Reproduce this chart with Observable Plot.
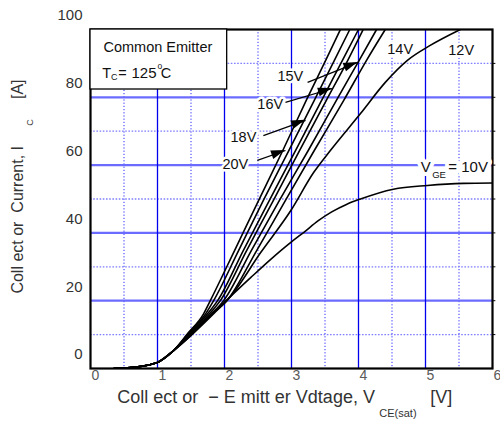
<!DOCTYPE html>
<html><head><meta charset="utf-8">
<script src="https://cdn.jsdelivr.net/npm/d3@7"></script>
<script src="https://cdn.jsdelivr.net/npm/@observablehq/plot@0.6"></script>
<style>html,body{margin:0;padding:0;background:#fff}svg{display:block}</style>
</head><body><div id="chart"></div>
<script>
const FONT = "'Liberation Sans', Arial, Helvetica, sans-serif";

// axis ticks & grid
const xTicks = [0, 1, 2, 3, 4, 5, 6];
const yTicks = [0, 20, 40, 60, 80, 100];
const xMajorGrid = [1, 2, 3, 4, 5];
const yMajorGrid = [20, 40, 60, 80];
const xMinorGrid = [0.5, 1.5, 2.5, 3.5, 4.5, 5.5];
const yMinorGrid = [10, 30, 50, 70, 90];

// common low-current part of all curves [V, A]
const commonStart = [[0.35, 0], [0.6, 0.3], [0.9, 1.2], [1.0, 1.8], [1.24, 5.3]];
// series values [V_CE, I_C]
const v20 = [[1.45, 10.3], [1.69, 16.2], [1.79, 20.1], [2.15, 34.8], [2.51, 49.6], [2.87, 64.3], [3.22, 79.1], [3.51, 90.9], [3.73, 100]];
const v18 = [[1.46, 10.3], [1.72, 16.2], [1.84, 20.1], [2.21, 34.8], [2.58, 49.6], [2.96, 64.3], [3.34, 79.1], [3.64, 90.9], [3.87, 100]];
const v17 = [[1.48, 10.3], [1.75, 16.2], [1.90, 20.1], [2.28, 34.8], [2.67, 49.6], [3.06, 64.3], [3.45, 79.1], [3.76, 90.9], [4.00, 100]];
const v16 = [[1.49, 10.3], [1.78, 16.2], [1.94, 20.1], [2.33, 34.8], [2.73, 49.6], [3.12, 64.3], [3.52, 79.1], [3.84, 90.9], [4.07, 100]];
const v15 = [[1.50, 10.3], [1.81, 16.2], [1.99, 20.1], [2.40, 34.8], [2.82, 49.6], [3.25, 64.3], [3.67, 79.1], [4.01, 90.9], [4.27, 100]];
const v14 = [[1.51, 10.3], [1.82, 16.2], [2.04, 20.1], [2.48, 34.8], [2.91, 49.6], [3.34, 64.3], [3.78, 79.1], [4.12, 90.9], [4.40, 100]];
const v12 = [[1.53, 10.3], [1.85, 16.4], [2.08, 21.0], [2.54, 34.2], [2.99, 46.6], [3.33, 57.8], [3.58, 64.3], [4.03, 75.2], [4.40, 84.4], [4.73, 90.9], [5.07, 95.3], [5.52, 100]];
const v10 = [[1.52, 10.2], [1.68, 13.6], [1.90, 17.7], [2.39, 26.8], [2.69, 32.2], [2.99, 37.2], [3.18, 40.1], [3.40, 43.6], [3.60, 46.2], [3.82, 48.4], [4.03, 50.0], [4.52, 52.9], [5.03, 54.0], [5.57, 54.6], [6.0, 54.7]];

const seriesNames = ["20V", "18V", "17V", "16V", "15V", "14V", "12V", "10V"];
const seriesPoints = [v20, v18, v17, v16, v15, v14, v12, v10];

const rows = seriesNames.flatMap((name, i) =>
  [...commonStart, ...seriesPoints[i]].map(([x, y]) => ({series: name, x, y})));

// curve labels and arrows (data units)
const curveLabels = [
  {text: "14V", x: 4.43, y: 94.1},
  {text: "12V", x: 5.34, y: 93.8},
  {text: "15V", x: 2.79, y: 86.1},
  {text: "16V", x: 2.49, y: 77.9},
  {text: "18V", x: 2.09, y: 68.1},
  {text: "20V", x: 1.97, y: 60.2}
];
const arrows = [
  {x1: 3.24, y1: 84.4, x2: 3.99, y2: 90.3},
  {x1: 2.91, y1: 78.5, x2: 3.61, y2: 82.6},
  {x1: 2.58, y1: 68.7, x2: 3.21, y2: 73.2},
  {x1: 2.49, y1: 61.4, x2: 2.91, y2: 64.3}
];
const legendBox = [{x1: 0, x2: 2.04, y1: 82.3, y2: 100}];

const t = (s) => [s];
const chart = Plot.plot({
  width: 500,
  height: 423,
  marginLeft: 90,
  marginRight: 8,
  marginTop: 29,
  marginBottom: 55,
  style: {fontFamily: FONT, fontSize: "14px", background: "white", overflow: "visible"},
  x: {domain: [0, 6]},
  y: {domain: [0, 100]},
  marks: [
    Plot.ruleX(xMinorGrid, {stroke: "#2a2aff", strokeWidth: 1, strokeDasharray: "1.2,2"}),
    Plot.ruleY(yMinorGrid, {stroke: "#7f7fff", strokeWidth: 1.3, strokeDasharray: "1.6,1.6"}),
    Plot.ruleY(yMajorGrid, {stroke: "#6b6bff", strokeWidth: 2.2}),
    Plot.ruleX(xMajorGrid, {stroke: "#0000ee", strokeWidth: 1.3}),
    Plot.ruleY([...yMajorGrid, ...yMinorGrid], {x1: 6, x2: 6.05, stroke: "#000", strokeWidth: 1}),
    Plot.line(rows, {x: "x", y: "y", z: "series", stroke: "black", strokeWidth: 1.6, curve: "monotone-x", clip: true}),
    Plot.link(arrows, {x1: "x1", y1: "y1", x2: "x2", y2: "y2", stroke: "black", strokeWidth: 1.2}),
    Plot.frame({stroke: "black", strokeWidth: 2.2}),
    Plot.rect(legendBox, {x1: "x1", x2: "x2", y1: "y1", y2: "y2", fill: "white", stroke: "black", strokeWidth: 1.3}),
    // legend text
    Plot.text(t("Common Emitter"), {x: 0.194, y: 94.7, text: d => d, textAnchor: "start", fontSize: 14.5, fill: "#111"}),
    Plot.text(t("T"), {x: 0.175, y: 87.2, text: d => d, textAnchor: "start", fontSize: 14.5, fill: "#111"}),
    Plot.text(t("C"), {x: 0.305, y: 86.0, text: d => d, textAnchor: "start", fontSize: 9, fill: "#111"}),
    Plot.text(t("="), {x: 0.415, y: 87.2, text: d => d, textAnchor: "start", fontSize: 14.5, fill: "#111"}),
    Plot.text(t("125"), {x: 0.985, y: 87.2, text: d => d, textAnchor: "end", fontSize: 15, fill: "#111"}),
    Plot.text(t("o"), {x: 1.0, y: 89.3, text: d => d, textAnchor: "start", fontSize: 8.5, fill: "#111"}),
    Plot.text(t("C"), {x: 1.05, y: 87.2, text: d => d, textAnchor: "start", fontSize: 14.5, fill: "#111"}),
    // curve labels
    Plot.text(curveLabels, {x: "x", y: "y", text: "text", textAnchor: "start", fontSize: 14.5, fill: "#111", stroke: "white", strokeWidth: 5}),
    Plot.text(t("V"), {x: 4.93, y: 59.3, text: d => d, textAnchor: "start", fontSize: 15, fill: "#111", stroke: "white", strokeWidth: 8}),
    Plot.text(t("GE"), {x: 5.10, y: 57.0, text: d => d, textAnchor: "start", fontSize: 9.5, fill: "#111", stroke: "white", strokeWidth: 8}),
    Plot.text(t("= 10V"), {x: 5.34, y: 59.3, text: d => d, textAnchor: "start", fontSize: 15, fill: "#111", stroke: "white", strokeWidth: 8}),
    // axes
    Plot.axisX(xTicks, {tickSize: 0, tickPadding: 2, dx: 5, fontSize: 14, color: "#5a5a5a", label: null}),
    Plot.axisY(yTicks, {tickSize: 0, tickPadding: 8, dy: -14, fontSize: 15, color: "#333", label: null}),
    // axis titles
    Plot.text(t("Coll ect or\u00a0\u00a0Current, I"), {x: -1.09, y: 22.1, text: d => d, rotate: -90, textAnchor: "start", fontSize: 16, fill: "#333"}),
    Plot.text(t("C"), {x: -0.90, y: 72.6, text: d => d, rotate: -90, textAnchor: "middle", fontSize: 9, fill: "#333"}),
    Plot.text(t("[A]"), {x: -1.09, y: 79.5, text: d => d, rotate: -90, textAnchor: "start", fontSize: 16, fill: "#333"}),
    Plot.text(t("Coll ect or\u00a0\u00a0\u2212 E mitt er Vdtage, V"), {x: 0.40, y: -8.6, text: d => d, textAnchor: "start", fontSize: 18, fill: "#333"}),
    Plot.text(t("CE(sat)"), {x: 4.31, y: -13.3, text: d => d, textAnchor: "start", fontSize: 11, fill: "#333"}),
    Plot.text(t("[V]"), {x: 5.07, y: -8.6, text: d => d, textAnchor: "start", fontSize: 18, fill: "#333"})
  ]
});

document.getElementById("chart").appendChild(chart);

// filled arrowheads, placed through the plot's own scales
(function () {
  const sx = chart.scale("x"), sy = chart.scale("y");
  const fx = sx.apply ? sx.apply : d3.scaleLinear(sx.domain, sx.range);
  const fy = sy.apply ? sy.apply : d3.scaleLinear(sy.domain, sy.range);
  const g = d3.select(chart).append("g").attr("fill", "black");
  for (const a of arrows) {
    const x1 = fx(a.x1), y1 = fy(a.y1), x2 = fx(a.x2), y2 = fy(a.y2);
    const dx = x2 - x1, dy = y2 - y1, len = Math.hypot(dx, dy);
    const ux = dx / len, uy = dy / len, nx = -uy, ny = ux;
    const L = 14, W = 4.5;
    const bx = x2 - ux * L, by = y2 - uy * L;
    g.append("polygon").attr("points",
      `${x2},${y2} ${bx + nx * W},${by + ny * W} ${bx - nx * W},${by - ny * W}`);
  }
})();
</script>
</body></html>
